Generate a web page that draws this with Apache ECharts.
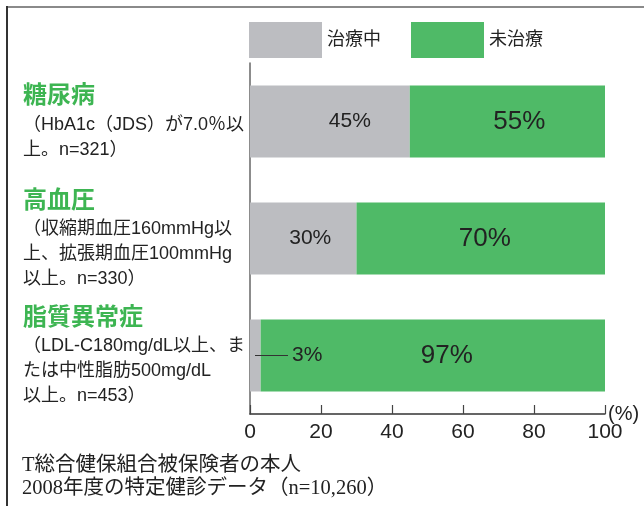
<!DOCTYPE html>
<html><head><meta charset="utf-8">
<script src="https://cdn.jsdelivr.net/npm/echarts@6/dist/echarts.min.js"></script>
<style>html,body{margin:0;padding:0;background:#fff}#c{width:644px;height:506px}</style>
</head><body><div id="c"></div>
<script>
const categories = ['糖尿病', '高血圧', '脂質異常症'];
const categoryNotes = [
  ['（HbA1c（JDS）が7.0％以', '上。n=321）'],
  ['（収縮期血圧160mmHg以', '上、拡張期血圧100mmHg', '以上。n=330）'],
  ['（LDL-C180mg/dL以上、ま', 'たは中性脂肪500mg/dL', '以上。n=453）']
];
const seriesNames = ['治療中', '未治療'];
const treated = [45, 30, 3];
const untreated = [55, 70, 97];
const xTicks = [0, 20, 40, 60, 80, 100];
const footnotes = ['T総合健保組合被保険者の本人', '2008年度の特定健診データ（n=10,260）'];

const SANS = '"Liberation Sans", "Noto Sans CJK JP", sans-serif';
const SERIF = '"Liberation Serif", "Noto Sans CJK JP", serif';
const GRAY = '#bcbdc1', GREEN = '#4fba67', TXT = '#222';
const grayOffsets = [[20, 0], [7, 0], [0, 0]];
const greenOffsets = [[12, 0], [4, 0], [14, 0]];

const chart = echarts.init(document.getElementById('c'));
const labelMap = {};
categories.forEach((c, i) => { labelMap[c] = categoryNotes[i]; });

chart.setOption({
  animation: false,
  textStyle: { fontFamily: SANS },
  legend: {
    data: seriesNames,
    left: 249, top: 22, padding: 0,
    icon: 'rect', itemWidth: 73, itemHeight: 36, itemGap: 30,
    textStyle: { fontSize: 18, color: TXT, fontFamily: SANS }
  },
  grid: { left: 250, right: 39, top: 63, bottom: 92, containLabel: false, outerBoundsMode: 'none' },
  xAxis: {
    type: 'value', min: 0, max: 100, interval: 20,
    name: '(%)', nameLocation: 'end', nameGap: 3, nameMoveOverlap: false,
    nameTextStyle: { fontSize: 20, color: TXT, padding: [0, 0, 8, 0], fontFamily: SANS },
    axisLine: { show: true, lineStyle: { color: '#333', width: 1.5 } },
    axisTick: { show: true, inside: true, length: 9, lineStyle: { color: '#444', width: 1.2 } },
    axisLabel: { fontSize: 21, color: TXT, margin: 8, formatter: v => xTicks.includes(v) ? String(v) : '' },
    splitLine: { show: false }
  },
  yAxis: {
    type: 'category', data: categories, inverse: true,
    axisLine: { show: true, lineStyle: { color: '#666', width: 1.5 } },
    axisTick: { show: false },
    axisLabel: {
      margin: 227, align: 'left',
      formatter: v => ['{t|' + v + '}'].concat(labelMap[v].map(s => '{s|' + s + '}')).join('\n'),
      rich: {
        t: { fontSize: 24, fontWeight: 'bold', color: '#3db552', lineHeight: 32, fontFamily: SANS },
        s: { fontSize: 18, color: TXT, lineHeight: 25, fontFamily: SANS }
      }
    }
  },
  series: [
    {
      name: seriesNames[0], type: 'bar', stack: 'a', barWidth: 72,
      itemStyle: { color: GRAY },
      data: treated.map((v, i) => ({
        value: v,
        label: i === 2 ? {
          show: true, position: 'insideLeft', offset: [0, 0],
          formatter: '{ln|}{p|{c}%}',
          rich: {
            ln: { width: 33, height: 1, backgroundColor: '#333' },
            p: { fontSize: 21, color: TXT, padding: [0, 0, 0, 4], fontFamily: SANS }
          }
        } : { show: true, position: 'inside', offset: grayOffsets[i], formatter: '{c}%', fontSize: 21, color: TXT }
      }))
    },
    {
      name: seriesNames[1], type: 'bar', stack: 'a', barWidth: 72,
      itemStyle: { color: GREEN },
      data: untreated.map((v, i) => ({
        value: v,
        label: { show: true, position: 'inside', offset: greenOffsets[i], formatter: '{c}%', fontSize: 26, color: TXT }
      }))
    }
  ],
  graphic: [
    { type: 'line', shape: { x1: 6, y1: 7, x2: 644, y2: 7 }, style: { stroke: '#8a8a8a', lineWidth: 2 } },
    { type: 'line', shape: { x1: 7, y1: 6, x2: 7, y2: 506 }, style: { stroke: '#333', lineWidth: 2 } },
    { type: 'text', left: 22, top: 455, style: { text: footnotes[0], fontSize: 20.5, fill: TXT, fontFamily: SERIF } },
    { type: 'text', left: 22, top: 478, style: { text: footnotes[1], fontSize: 20.5, fill: TXT, fontFamily: SERIF } }
  ]
});
</script>
</body></html>
